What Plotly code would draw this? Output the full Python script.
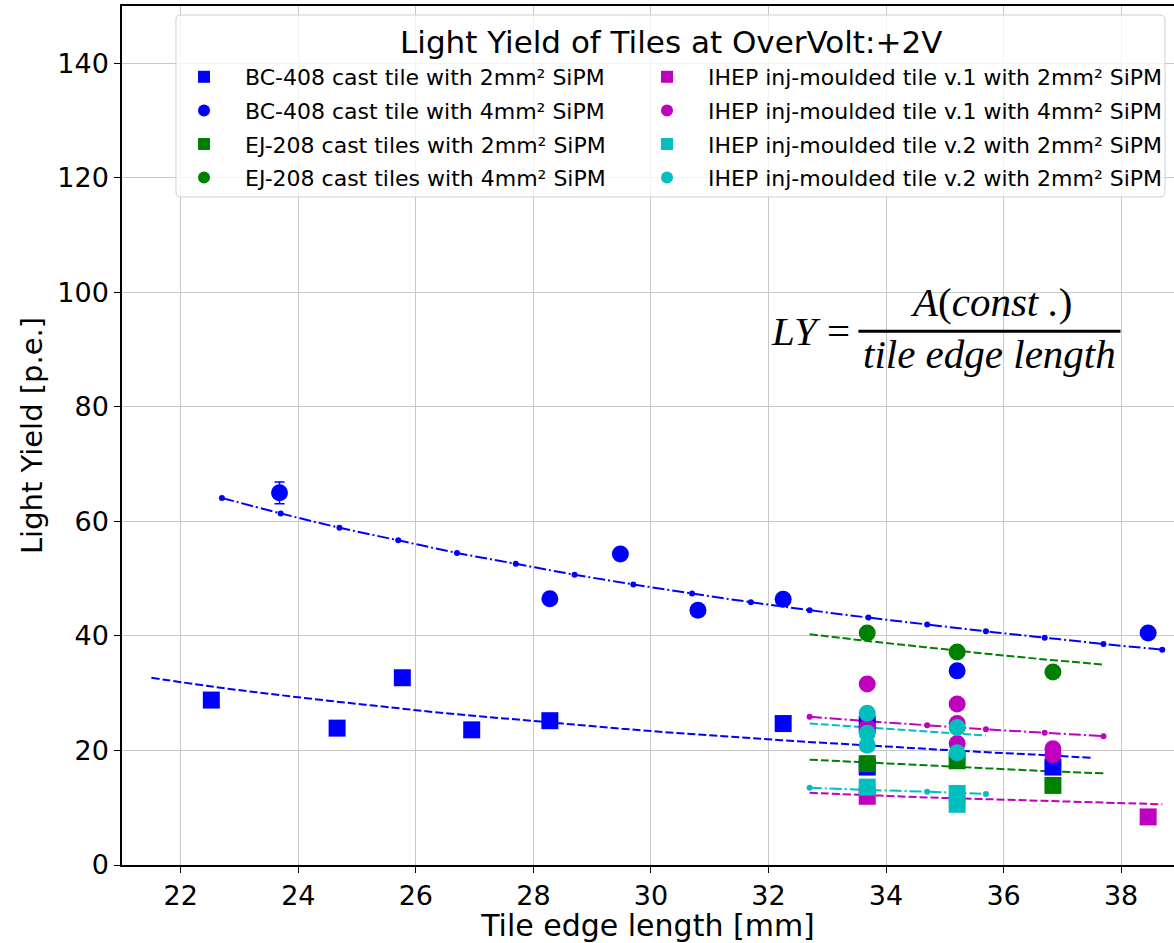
import plotly.graph_objects as go

# ---------------- data ----------------
bc2_x = [22.52, 24.66, 25.77, 26.95, 28.28, 32.25, 33.68, 33.68, 36.84]
bc2_y = [28.8, 23.9, 32.7, 23.6, 25.2, 24.7, 24.6, 17.1, 17.1]
bc2_e = [0.9, 0.8, 0.9, 0.8, 0.8, 0.8, 0.8, 0.7, 0.7]

bc4_x = [23.68, 28.28, 29.48, 30.80, 32.25, 35.21, 38.46]
bc4_y = [65.0, 46.5, 54.3, 44.5, 46.4, 33.9, 40.5]
bc4_e = [1.9, 1.0, 1.0, 0.9, 1.0, 0.9, 1.0]

ej2_x = [33.68, 35.21, 36.84]
ej2_y = [17.7, 18.2, 13.9]
ej2_e = [0.7, 0.7, 0.6]

ej4_x = [33.68, 35.21, 36.84]
ej4_y = [40.5, 37.2, 33.7]
ej4_e = [1.0, 1.0, 0.9]

ih1_2_x = [33.68, 38.46]
ih1_2_y = [12.0, 8.4]
ih1_2_e = [0.6, 0.5]

ih1_4_x = [33.68, 33.68, 35.21, 35.21, 35.21, 36.84, 36.84]
ih1_4_y = [31.6, 24.1, 28.1, 24.7, 21.2, 20.3, 19.2]
ih1_4_e = [0.9, 0.8, 0.9, 0.8, 0.8, 0.8, 0.8]

ih2_2_x = [33.68, 35.21, 35.21]
ih2_2_y = [13.6, 12.5, 10.6]
ih2_2_e = [0.6, 0.6, 0.5]

ih2_4_x = [33.68, 33.68, 33.68, 35.21, 35.21]
ih2_4_y = [26.5, 23.0, 20.9, 24.0, 19.6]
ih2_4_e = [0.8, 0.8, 0.8, 0.8, 0.8]

# fitted curves LY = A / edge length
fit_bc4_x = [22.7, 23.7, 24.7, 25.7, 26.7, 27.7, 28.7, 29.7, 30.7, 31.7, 32.7, 33.7, 34.7, 35.7, 36.7, 37.7, 38.7]
fit_bc4_y = [64.1, 61.4, 58.9, 56.7, 54.5, 52.6, 50.7, 49.0, 47.4, 45.9, 44.5, 43.2, 42.0, 40.8, 39.7, 38.6, 37.6]
fit_bc2_x = [21.5, 22.5, 23.5, 24.5, 25.5, 26.5, 27.5, 28.5, 29.5, 30.5, 31.5, 32.5, 33.5, 34.5, 35.5, 36.5, 37.5]
fit_bc2_y = [32.7, 31.2, 29.9, 28.7, 27.6, 26.5, 25.6, 24.7, 23.8, 23.0, 22.3, 21.6, 21.0, 20.4, 19.8, 19.3, 18.7]
fit_ej4_x = [32.7, 33.7, 34.7, 35.7, 36.7, 37.7]
fit_ej4_y = [40.3, 39.1, 38.0, 36.9, 35.9, 35.0]
fit_ej2_x = [32.7, 33.7, 34.7, 35.7, 36.7, 37.7]
fit_ej2_y = [18.4, 17.9, 17.4, 16.9, 16.4, 16.0]
fit_ih1_4_x = [32.7, 33.7, 34.7, 35.7, 36.7, 37.7]
fit_ih1_4_y = [25.9, 25.1, 24.4, 23.7, 23.1, 22.5]
fit_ih1_2_x = [32.7, 33.7, 34.7, 35.7, 36.7, 37.7, 38.7]
fit_ih1_2_y = [12.6, 12.2, 11.8, 11.5, 11.2, 10.9, 10.6]
fit_ih2_4_x = [32.7, 33.7, 34.7, 35.7]
fit_ih2_4_y = [24.7, 24.0, 23.3, 22.6]
fit_ih2_2_x = [32.7, 33.7, 34.7, 35.7]
fit_ih2_2_y = [13.5, 13.1, 12.8, 12.4]

x_ticks = [22, 24, 26, 28, 30, 32, 34, 36, 38]
y_ticks = [0, 20, 40, 60, 80, 100, 120, 140]

legend_title = "Light Yield of Tiles at OverVolt:+2V"
x_title = "Tile edge length [mm]"
y_title = "Light Yield [p.e.]"

BLUE, GREEN, MAG, CYAN = "#0000ff", "#008000", "#bf00bf", "#00bfbf"
DASH = "8px,3px"
DASHDOT = "12px,3px,2px,3px"

fig = go.Figure()

# fit lines (drawn first, under the markers)
fits = [
    (fit_bc2_x, fit_bc2_y, BLUE, DASH, False),
    (fit_bc4_x, fit_bc4_y, BLUE, DASHDOT, True),
    (fit_ej2_x, fit_ej2_y, GREEN, DASH, False),
    (fit_ej4_x, fit_ej4_y, GREEN, DASH, False),
    (fit_ih1_2_x, fit_ih1_2_y, MAG, DASH, False),
    (fit_ih1_4_x, fit_ih1_4_y, MAG, DASHDOT, True),
    (fit_ih2_2_x, fit_ih2_2_y, CYAN, DASHDOT, True),
    (fit_ih2_4_x, fit_ih2_4_y, CYAN, DASH, False),
]
for fx, fy, col, dash, dots in fits:
    fig.add_trace(go.Scatter(
        x=fx, y=fy, mode="lines+markers" if dots else "lines",
        line=dict(color=col, width=2, dash=dash, shape="spline"),
        marker=dict(color=col, size=6),
        showlegend=False, hoverinfo="skip"))

series = [
    ("BC-408 cast tile with 2mm² SiPM", bc2_x, bc2_y, bc2_e, BLUE, "square", "legend"),
    ("BC-408 cast tile with 4mm² SiPM", bc4_x, bc4_y, bc4_e, BLUE, "circle", "legend"),
    ("EJ-208 cast tiles with 2mm² SiPM", ej2_x, ej2_y, ej2_e, GREEN, "square", "legend"),
    ("EJ-208 cast tiles with 4mm² SiPM", ej4_x, ej4_y, ej4_e, GREEN, "circle", "legend"),
    ("IHEP inj-moulded tile v.1 with 2mm² SiPM", ih1_2_x, ih1_2_y, ih1_2_e, MAG, "square", "legend2"),
    ("IHEP inj-moulded tile v.1 with 4mm² SiPM", ih1_4_x, ih1_4_y, ih1_4_e, MAG, "circle", "legend2"),
    ("IHEP inj-moulded tile v.2 with 2mm² SiPM", ih2_2_x, ih2_2_y, ih2_2_e, CYAN, "square", "legend2"),
    ("IHEP inj-moulded tile v.2 with 2mm² SiPM", ih2_4_x, ih2_4_y, ih2_4_e, CYAN, "circle", "legend2"),
]
for i, (name, sx, sy, se, col, sym, leg) in enumerate(series):
    fig.add_trace(go.Scatter(
        x=sx, y=sy, name=name, mode="markers", legend=leg, legendgroup="g%d" % i,
        marker=dict(color=col, symbol=sym, size=17, line=dict(width=0)),
        error_y=dict(type="data", array=se, color=col, thickness=1.5, width=5)))

# formula LY = A(const.) / tile edge length
ffont = dict(family="Liberation Serif", size=41, color="black")
fig.add_annotation(x=32.71, y=93.3, xref="x", yref="y", showarrow=False,
                   text="<i>LY</i> =", font=ffont)
fig.add_annotation(x=35.78, y=98.4, xref="x", yref="y", showarrow=False,
                   text="<i>A</i>(<i>const .</i>)", font=ffont)
fig.add_annotation(x=35.76, y=89.3, xref="x", yref="y", showarrow=False,
                   text="<i>tile edge length</i>", font=ffont)
fig.add_shape(type="line", xref="x", yref="y", x0=33.53, x1=37.99, y0=93.2, y1=93.2,
              line=dict(color="black", width=3))

# legend frame (rounded, semi-transparent) and title
bx0, bx1, by0, by1 = 0.0513, 0.9914, 0.7777, 0.9895
rx, ry = 0.0048, 0.0058
frame = (f"M {bx0+rx},{by0} L {bx1-rx},{by0} Q {bx1},{by0} {bx1},{by0+ry} "
         f"L {bx1},{by1-ry} Q {bx1},{by1} {bx1-rx},{by1} L {bx0+rx},{by1} "
         f"Q {bx0},{by1} {bx0},{by1-ry} L {bx0},{by0+ry} Q {bx0},{by0} {bx0+rx},{by0} Z")
fig.add_shape(type="path", path=frame, xref="paper", yref="paper", layer="above",
              fillcolor="rgba(255,255,255,0.8)", line=dict(color="#d0d0d0", width=1))
fig.add_annotation(x=0.5223, y=0.958, xref="paper", yref="paper", showarrow=False,
                   xanchor="center", yanchor="middle",
                   text=legend_title, font=dict(family="DejaVu Sans", size=31, color="black"))

axis_common = dict(showline=True, linecolor="black", linewidth=1.5,
                   ticks="outside", ticklen=6, tickcolor="black",
                   showgrid=True, gridcolor="#c8c8c8", gridwidth=1, zeroline=False,
                   tickfont=dict(family="DejaVu Sans", size=27, color="black"))

leg_common = dict(orientation="v", yanchor="top", xanchor="left",
                  bgcolor="rgba(0,0,0,0)", borderwidth=0,
                  font=dict(size=22, family="DejaVu Sans", color="black"),
                  itemsizing="constant", itemwidth=72, tracegroupgap=2)

fig.update_layout(
    width=1174, height=943,
    margin=dict(l=122, r=0, t=6, b=78),
    paper_bgcolor="white", plot_bgcolor="white",
    font=dict(family="DejaVu Sans", color="black"),
    xaxis=dict(range=[21.0, 38.9], tickvals=x_ticks, mirror=True,
               title=dict(text=x_title, font=dict(size=30), standoff=10),
               **axis_common),
    yaxis=dict(range=[0, 150], tickvals=y_ticks, mirror=False,
               title=dict(text=y_title, font=dict(size=29), standoff=6),
               **axis_common),
    legend=dict(x=0.039, y=0.9418, **leg_common),
    legend2=dict(x=0.4791, y=0.9418, **leg_common),
)

fig.write_html("out.html", config={"displayModeBar": False},
               post_script="document.body.style.margin='0';")
